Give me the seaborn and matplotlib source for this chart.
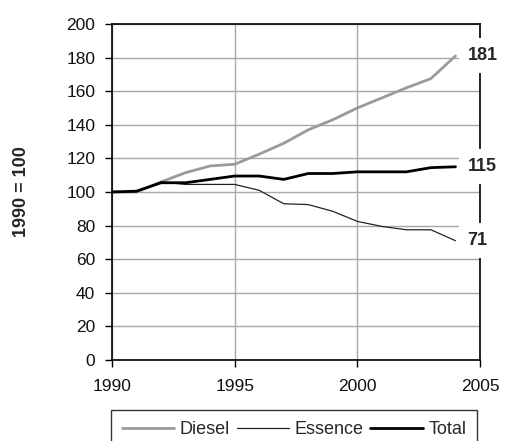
import matplotlib
matplotlib.use("Agg")
import matplotlib.pyplot as plt
import seaborn as sns
import pandas as pd

# index 1990 = 100
years = list(range(1990, 2005))
diesel = [100, 100, 106, 111.5, 115.5, 116.5, 122.5, 129, 137, 143, 150, 156, 162, 167.5, 181]
essence = [100, 100, 106, 104.5, 104.5, 104.5, 101, 93, 92.5, 88.5, 82.5, 79.5, 77.5, 77.5, 71]
total = [100, 100.5, 105.5, 105.5, 107.5, 109.5, 109.5, 107.5, 111, 111, 112, 112, 112, 114.5, 115]
end_labels = ["181", "115", "71"]

df = pd.DataFrame({"year": years, "Diesel": diesel, "Essence": essence, "Total": total})

sns.set_style("white")
plt.rcParams["font.family"] = ["Liberation Sans", "DejaVu Sans"]

fig = plt.figure(figsize=(5.05, 4.41), dpi=100)
ax = fig.add_axes([0.2218, 0.1837, 0.7287, 0.7619])

sns.lineplot(data=df, x="year", y="Diesel", ax=ax, color="#9a9a9a", lw=2.0, label="Diesel")
sns.lineplot(data=df, x="year", y="Essence", ax=ax, color="#222222", lw=0.9, label="Essence")
sns.lineplot(data=df, x="year", y="Total", ax=ax, color="black", lw=2.0, label="Total")

ax.set_xlim(1990, 2005)
ax.set_ylim(0, 200)
ax.set_xticks(range(1990, 2006, 5))
ax.set_yticks(range(0, 201, 20))
ax.grid(True, color="#a8a8a8", lw=1.0)
ax.set_axisbelow(True)
for s in ax.spines.values():
    s.set_color("black")
    s.set_linewidth(1.2)
ax.tick_params(axis="both", which="both", direction="out", length=5, width=1,
               color="black", labelsize=12.5, labelcolor="#111111",
               left=True, bottom=True)
ax.tick_params(axis="y", pad=7)
ax.tick_params(axis="x", pad=8.5)
ax.set_xlabel("")
ax.set_ylabel("1990 = 100", fontsize=13, fontweight="bold", labelpad=26)

for series, lab in zip([diesel, total, essence], end_labels):
    ax.text(2004.5, series[-1], lab, fontsize=13, fontweight="bold",
            ha="left", va="center", clip_on=False, zorder=5,
            bbox=dict(boxstyle="square,pad=0.5", facecolor="white", edgecolor="none"))

ax.legend_.remove()
handles, labels = ax.get_legend_handles_labels()
leg = fig.legend(handles, labels, loc="upper left", ncol=3,
                 bbox_to_anchor=(111 / 505, 0, 366 / 505, 1 - 410 / 441),
                 mode="expand", fontsize=13, frameon=True, fancybox=False,
                 edgecolor="black", handlelength=2.9, handletextpad=0.3,
                 borderaxespad=0, borderpad=0.6, columnspacing=0.4)
leg.get_frame().set_linewidth(1.0)

fig.savefig("out.png", dpi=100)
